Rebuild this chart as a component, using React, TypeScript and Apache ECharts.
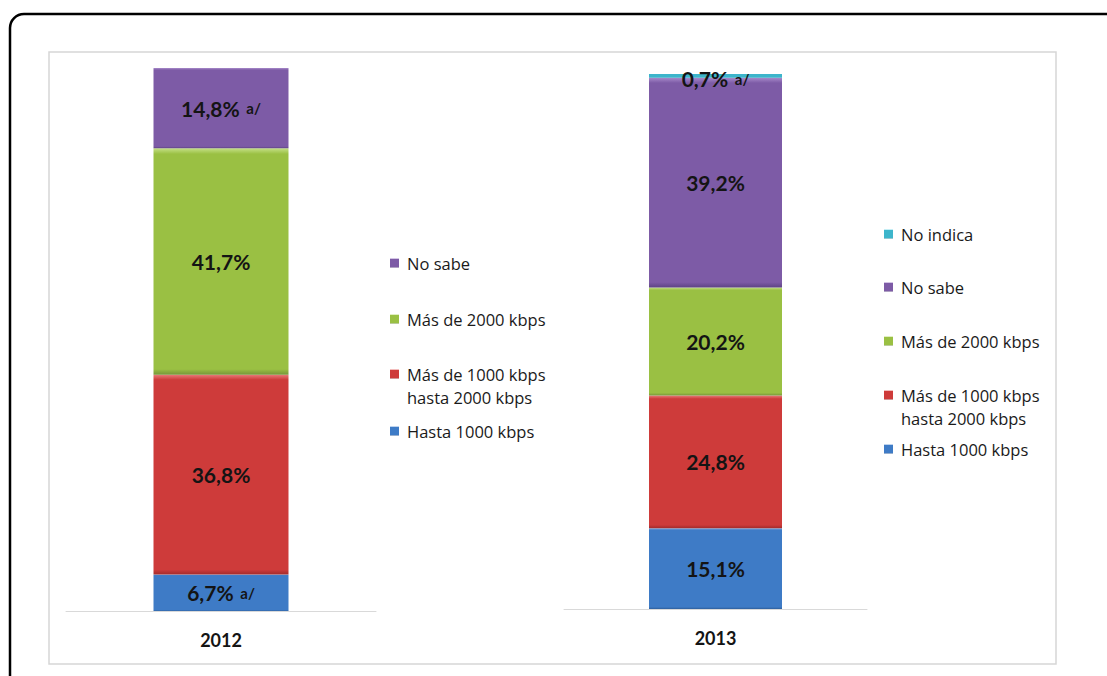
import React, { useEffect, useRef } from "react";
import * as echarts from "echarts";

const categories2012 = ["2012"];
const categories2013 = ["2013"];
const seriesNames = [
  "Hasta 1000 kbps",
  "Más de 1000 kbps hasta 2000 kbps",
  "Más de 2000 kbps",
  "No sabe",
  "No indica",
];
const values2012 = [6.7, 36.8, 41.7, 14.8];
const values2013 = [15.1, 24.8, 20.2, 39.2, 0.7];
const notes2012 = ["a/", "", "", "a/"];
const notes2013 = ["", "", "", "", "a/"];
const baseColors = ["#3E7BC6", "#CE3B3A", "#9AC043", "#7D5BA6", "#3DB5CB"];
const lightColors = ["#7FA9DE", "#E77A78", "#C4E086", "#A88ACB", "#8ADCEB"];
const darkColors = ["#2E5F9C", "#A22A2A", "#76963A", "#5E4384", "#2A8FA2"];

const legend2012 = ["No sabe", "Más de 2000 kbps", "Más de 1000 kbps hasta 2000 kbps", "Hasta 1000 kbps"];
const legend2013 = ["No indica", "No sabe", "Más de 2000 kbps", "Más de 1000 kbps hasta 2000 kbps", "Hasta 1000 kbps"];
const legendY2012 = [263, 319, 374, 431];
const legendY2013 = [234, 287, 341, 395, 449];

const FONT = "Lato, 'Noto Sans', sans-serif";
const LEGEND_FONT = "'Open Sans', 'Noto Sans', sans-serif";

function fmt(v: number) {
  return v.toFixed(1).replace(".", ",") + "%";
}

function makeSeries(values: number[], notes: string[], idx: number, stack: string) {
  return values.map((v, i) => ({
    name: seriesNames[i],
    type: "bar",
    stack,
    xAxisIndex: idx,
    yAxisIndex: idx,
    barWidth: idx === 0 ? 135 : 133,
    data: [v],
    itemStyle: {
      color: new echarts.graphic.LinearGradient(0, 0, 0, 1, [
        { offset: 0, color: lightColors[i] },
        { offset: 0.025, color: baseColors[i] },
        { offset: 0.975, color: baseColors[i] },
        { offset: 1, color: darkColors[i] },
      ]),
    },
    label: {
      show: true,
      position: "inside",
      offset: v < 2 ? [0, 3] : [0, 0],
      formatter: () => (notes[i] ? `{v|${fmt(v)}}  {n|${notes[i]}}` : `{v|${fmt(v)}}`),
      rich: {
        v: { fontFamily: FONT, fontWeight: "bold", fontSize: 21, color: "#141414" },
        n: { fontFamily: FONT, fontWeight: "bold", fontSize: 15, color: "#141414" },
      },
    },
  }));
}

function makeLegends(names: string[], ys: number[], left: number) {
  return names.map((n, k) => {
    const two = n.indexOf(" hasta") >= 0;
    return {
      data: [n],
      left,
      top: two ? ys[k] - 34.5 : ys[k] - 10,
      padding: 0,
      itemWidth: 9,
      itemHeight: 9,
      icon: "rect",
      selectedMode: false,
      formatter: (name: string) => (two ? "\n" + name.replace(" hasta", "\nhasta") : name),
      textStyle: {
        fontFamily: LEGEND_FONT,
        fontSize: 16.5,
        color: "#1a1a1a",
        lineHeight: two ? 23 : 20,
        padding: [0, 0, 0, 3],
      },
    };
  });
}

export default function App() {
  const ref = useRef<HTMLDivElement>(null);
  useEffect(() => {
    document.body.style.margin = "0";
    const chart = echarts.init(ref.current!, null, { renderer: "svg" });
    const xAxisCommon = {
      type: "category",
      axisLine: { lineStyle: { color: "#d9d9d9", width: 1 } },
      axisTick: { show: false },
      axisLabel: { fontFamily: FONT, fontWeight: "bold", fontSize: 18, color: "#141414", margin: 20 },
    };
    chart.setOption({
      animation: false,
      backgroundColor: "#ffffff",
      graphic: [
        {
          type: "rect",
          shape: { x: 10, y: 14, width: 1200, height: 800, r: 14 },
          style: { fill: "none", stroke: "#000", lineWidth: 2.5 },
          silent: true,
        },
        {
          type: "rect",
          shape: { x: 49, y: 52, width: 1007, height: 612 },
          style: { fill: "none", stroke: "#d6d6d6", lineWidth: 1.5 },
          silent: true,
        },
      ],
      grid: [
        { left: 66, top: 68, width: 310, height: 543 },
        { left: 564, top: 74, width: 303, height: 535 },
      ],
      xAxis: [
        { ...xAxisCommon, gridIndex: 0, data: categories2012 },
        { ...xAxisCommon, gridIndex: 1, data: categories2013 },
      ],
      yAxis: [
        { type: "value", gridIndex: 0, min: 0, max: 100, show: false },
        { type: "value", gridIndex: 1, min: 0, max: 100, show: false },
      ],
      legend: [...makeLegends(legend2012, legendY2012, 390), ...makeLegends(legend2013, legendY2013, 884)],
      series: [
        ...makeSeries(values2012, notes2012, 0, "s2012"),
        ...makeSeries(values2013, notes2013, 1, "s2013"),
      ],
    });
    return () => chart.dispose();
  }, []);
  return <div ref={ref} style={{ width: 1107, height: 676 }} />;
}
